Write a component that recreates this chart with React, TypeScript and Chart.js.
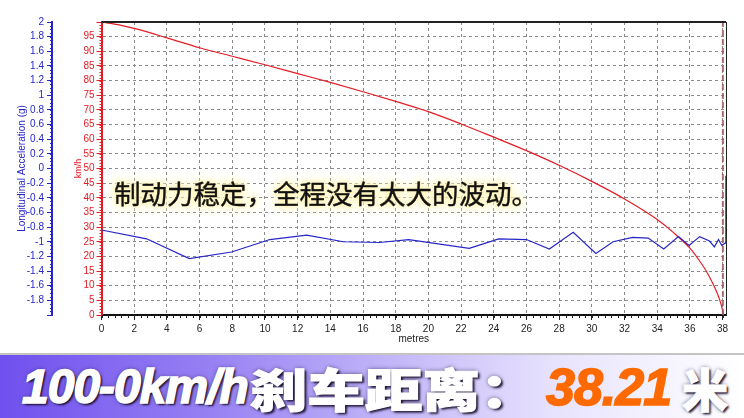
import React, { useEffect, useRef } from 'react';
import { Chart, registerables } from 'chart.js';

Chart.register(...registerables);

// ---- data ----
const speedDistance = [0, 1, 2, 4, 6, 8, 10, 12, 14, 16, 18, 20, 22, 24, 26, 28, 30, 32, 34, 35, 36, 36.5, 37, 37.5, 37.8, 38.0, 38.05];
const speedKmh = [100, 99.1, 97.8, 94.6, 91.2, 88.3, 85.4, 82.4, 79.4, 76.2, 72.9, 69.4, 65.2, 60.7, 56.1, 51.1, 45.6, 39.6, 32.6, 28.1, 22.8, 19.2, 15.0, 9.6, 5.6, 1.6, 0];

const accelDistance = [0, 2.76, 5.37, 7.96, 10.3, 12.55, 14.8, 17.0, 18.8, 22.5, 24.3, 26.0, 27.4, 28.86, 30.25, 31.3, 32.5, 33.45, 34.4, 35.3, 35.95, 36.6, 37.2, 37.5, 37.75, 37.95, 38.15, 38.2];
const accelG = [-0.84, -0.96, -1.23, -1.14, -0.97, -0.91, -1.0, -1.01, -0.97, -1.09, -0.96, -0.97, -1.1, -0.87, -1.16, -1.0, -0.94, -0.95, -1.1, -0.93, -1.05, -0.93, -0.99, -1.07, -0.97, -1.05, -1.02, -0.1];

const stopDistance = 38.02;
const stopSpeedRange = [0, 100];

const distanceTicks = [0, 2, 4, 6, 8, 10, 12, 14, 16, 18, 20, 22, 24, 26, 28, 30, 32, 34, 36, 38];
const speedTicks = [0, 5, 10, 15, 20, 25, 30, 35, 40, 45, 50, 55, 60, 65, 70, 75, 80, 85, 90, 95, 100];
const accelTicks = [2, 1.8, 1.6, 1.4, 1.2, 1, 0.8, 0.6, 0.4, 0.2, 0, -0.2, -0.4, -0.6, -0.8, -1, -1.2, -1.4, -1.6, -1.8, -2];
const accelLabelsShown = [2, 1.8, 1.6, 1.4, 1.2, 1, 0.8, 0.6, 0.4, 0.2, 0, -0.2, -0.4, -0.6, -0.8, -1, -1.2, -1.4, -1.6, -1.8];

const annotationText = '制动力稳定，全程没有太大的波动。';

const BLUE = '#2626c8';
const RED = '#e41c24';
const TICK_FONT = { family: '"Liberation Sans", Arial, sans-serif', size: 10 };

const framePlugin = {
  id: 'frame',
  afterDraw(chart: any) {
    const { ctx, chartArea, scales } = chart;
    ctx.save();
    const drawMinorY = (scale: any, step: number, color: string, len: number) => {
      ctx.strokeStyle = color;
      ctx.lineWidth = 1;
      const x = scale.right;
      ctx.beginPath();
      for (let v = scale.min; v <= scale.max + 1e-9; v += step) {
        const y = Math.round(scale.getPixelForValue(v)) + 0.5;
        ctx.moveTo(x - len, y);
        ctx.lineTo(x, y);
      }
      ctx.stroke();
    };
    drawMinorY(scales.yAcc, 0.05, BLUE, 2);
    drawMinorY(scales.y, 1, RED, 2);
    const xs = scales.x;
    ctx.strokeStyle = '#222';
    ctx.beginPath();
    for (let v = 0; v <= xs.max + 1e-9; v += 0.4) {
      const x = Math.round(xs.getPixelForValue(v)) + 0.5;
      ctx.moveTo(x, chartArea.bottom);
      ctx.lineTo(x, chartArea.bottom + 3);
    }
    ctx.stroke();
    ctx.strokeStyle = '#222';
    ctx.lineWidth = 2;
    ctx.beginPath();
    ctx.moveTo(chartArea.left, chartArea.top);
    ctx.lineTo(chartArea.right, chartArea.top);
    ctx.stroke();
    ctx.lineWidth = 1;
    ctx.beginPath();
    ctx.moveTo(Math.round(chartArea.right) + 0.5, chartArea.top);
    ctx.lineTo(Math.round(chartArea.right) + 0.5, chartArea.bottom);
    ctx.stroke();
    ctx.restore();
  },
};

function BrakeChart() {
  const ref = useRef<HTMLCanvasElement | null>(null);
  useEffect(() => {
    if (!ref.current) return;
    const speedData = speedDistance.map((d, i) => ({ x: d, y: speedKmh[i] }));
    const accelData = accelDistance.map((d, i) => ({ x: d, y: accelG[i] }));
    const stopData = stopSpeedRange.map((s) => ({ x: stopDistance, y: s }));
    const chart = new Chart(ref.current, {
      type: 'line',
      data: {
        datasets: [
          {
            label: 'stop',
            data: stopData,
            xAxisID: 'x',
            yAxisID: 'y',
            borderColor: 'rgba(160,90,100,0.85)',
            borderWidth: 2,
            borderDash: [6, 3],
            pointRadius: 0,
          },
          {
            label: 'Longitudinal Acceleration (g)',
            data: accelData,
            xAxisID: 'x',
            yAxisID: 'yAcc',
            borderColor: BLUE,
            borderWidth: 1.2,
            pointRadius: 0,
            tension: 0,
          },
          {
            label: 'km/h',
            data: speedData,
            xAxisID: 'x',
            yAxisID: 'y',
            borderColor: RED,
            borderWidth: 1.2,
            pointRadius: 0,
            cubicInterpolationMode: 'monotone',
          },
        ],
      },
      options: {
        animation: false,
        responsive: false,
        devicePixelRatio: 1,
        events: [],
        layout: { padding: { top: 22, right: 18, left: 0, bottom: 0 } },
        plugins: { legend: { display: false }, tooltip: { enabled: false } },
        scales: {
          x: {
            type: 'linear',
            position: 'bottom',
            min: 0,
            max: 38.21,
            afterBuildTicks: (s: any) => { s.ticks = distanceTicks.map((v) => ({ value: v })); },
            afterFit: (s: any) => { s.height = 37; },
            ticks: { autoSkip: false, maxRotation: 0, color: '#222', font: TICK_FONT, padding: 3, callback: (v: any) => String(v) },
            grid: { color: '#8a8a8a', lineWidth: 1, tickLength: 5, tickColor: '#222' },
            border: { color: '#111', width: 2, dash: [3, 3] },
            title: { display: true, text: 'metres', color: '#222', font: TICK_FONT, padding: { top: 0, bottom: 7 } },
          },
          y: {
            type: 'linear',
            position: 'left',
            weight: 0,
            min: 0,
            max: 100,
            afterBuildTicks: (s: any) => { s.ticks = speedTicks.map((v) => ({ value: v })); },
            afterFit: (s: any) => { s.width = 49.5; },
            ticks: { autoSkip: false, color: RED, font: TICK_FONT, padding: 2, callback: (v: any) => (v === 100 ? '' : String(v)) },
            grid: { color: '#8a8a8a', lineWidth: 1, tickLength: 5, tickColor: RED },
            border: { color: RED, width: 2, dash: [3, 3] },
            title: { display: true, text: 'km/h', color: RED, font: { ...TICK_FONT, size: 9 }, padding: { top: 21, bottom: 0 } },
          },
          yAcc: {
            type: 'linear',
            position: 'left',
            weight: 1,
            min: -2,
            max: 2,
            afterBuildTicks: (s: any) => { s.ticks = accelTicks.map((v) => ({ value: v })); },
            afterFit: (s: any) => { s.width = 52; },
            ticks: { autoSkip: false, color: BLUE, font: TICK_FONT, padding: 3, callback: (v: any) => (accelLabelsShown.includes(v) ? String(v) : '') },
            grid: { drawOnChartArea: false, tickLength: 5, tickColor: BLUE },
            border: { color: BLUE, width: 2 },
            title: { display: true, text: 'Longitudinal Acceleration (g)', color: BLUE, font: TICK_FONT, padding: { top: 16, bottom: 0 } },
          },
        },
      } as any,
      plugins: [framePlugin],
    });
    return () => chart.destroy();
  }, []);
  return <canvas ref={ref} width={744} height={352} style={{ display: 'block', width: 744, height: 352 }} />;
}

export default function App() {
  const glow = '#fff3b8';
  const shadow = '2px 2px 2px rgba(20,10,40,0.9), 0 0 4px rgba(30,20,60,0.7)';
  return (
    <div style={{ position: 'fixed', left: 0, top: 0, width: 744, height: 418, background: '#fff', overflow: 'hidden' }}>
      <div style={{ position: 'absolute', left: 0, top: 0 }}>
        <BrakeChart />
      </div>
      <div
        style={{
          position: 'absolute', left: 114, top: 179, fontFamily: '"Noto Sans CJK SC", sans-serif', fontSize: 26.5, lineHeight: '28px',
          color: '#111', whiteSpace: 'nowrap', letterSpacing: 0, fontWeight: 400, WebkitTextStroke: '0.4px #111',
          textShadow: `0 0 3px ${glow}, 0 0 5px ${glow}, 0 0 8px ${glow}, 0 0 11px ${glow}, 0 0 14px ${glow}`,
        }}
      >
        {annotationText}
      </div>
      <div style={{ position: 'absolute', left: 0, top: 353, width: 744, height: 2, background: '#c4c4c4' }} />
      <div
        style={{
          position: 'absolute', left: 0, top: 355, width: 744, height: 63,
          background: 'linear-gradient(to right, #7050ee 0%, #9680f3 28%, #c2b5f8 52%, #e8e3fd 75%, #ffffff 100%)',
        }}
      />
      <div style={{ position: 'absolute', left: 22, top: 363, fontFamily: '"Liberation Sans", Arial, sans-serif', fontStyle: 'italic', fontWeight: 700, fontSize: 48, lineHeight: '48px', color: '#fff', whiteSpace: 'nowrap', textShadow: shadow, letterSpacing: -1, WebkitTextStroke: '1.6px #fff' }}>
        100-0km/h
      </div>
      <div style={{ position: 'absolute', left: 250, top: 364, fontFamily: '"Noto Sans CJK SC", sans-serif', fontWeight: 900, fontSize: 46, lineHeight: '46px', color: '#fff', whiteSpace: 'nowrap', textShadow: shadow, transform: 'scaleX(1.25)', transformOrigin: 'left center', WebkitTextStroke: '1px #fff' }}>
        刹车距离：
      </div>
      <div style={{ position: 'absolute', left: 546, top: 361, fontFamily: '"Liberation Sans", Arial, sans-serif', fontStyle: 'italic', fontWeight: 700, fontSize: 52, lineHeight: '52px', color: '#ff6a00', whiteSpace: 'nowrap', letterSpacing: -1, WebkitTextStroke: '1.6px #ff6a00' }}>
        38.21
      </div>
      <div style={{ position: 'absolute', left: 682, top: 364, fontFamily: '"Noto Sans CJK SC", sans-serif', fontWeight: 900, fontSize: 46, lineHeight: '46px', color: '#fff', whiteSpace: 'nowrap', textShadow: shadow, WebkitTextStroke: '1px #fff' }}>
        米
      </div>
    </div>
  );
}
